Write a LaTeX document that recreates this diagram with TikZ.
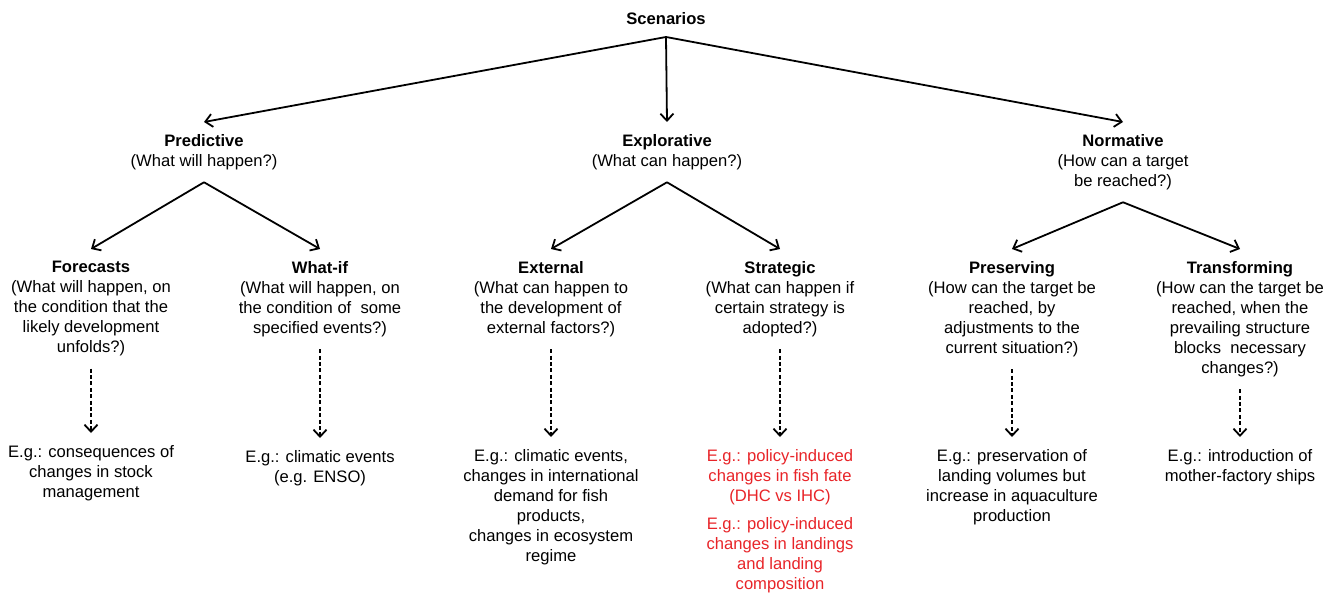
\documentclass[tikz,border=0pt]{standalone}
\usepackage{fontspec}
\setmainfont{Liberation Sans}
\usetikzlibrary{arrows.meta}
\definecolor{egred}{RGB}{232,36,40}

\begin{document}
\begin{tikzpicture}[x=0.5pt, y=-0.5pt,
	nodes={align=center, anchor=north, inner xsep=2pt, inner ysep=6pt,
		font=\fontsize{8.3}{10}\selectfont},
	treearrow/.style={-{Straight Barb[length=3.5pt, width=6.5pt]}, line width=0.9pt},
	egarrow/.style={treearrow, dash pattern=on 2pt off 1.2pt}]
	\useasboundingbox (0,0) rectangle (1334,599);
	
	% top levels
	\node (scen) at (666,0) {\textbf{Scenarios}};
	\node (pred) at (204,122) {\textbf{Predictive}\\(What will happen?)};
	\node (expl) at (667,122) {\textbf{Explorative}\\(What can happen?)};
	\node (norm) at (1123,122) {\textbf{Normative}\\(How can a target\\be reached?)};
	
	% scenario types
	\node (fore) at (91,249) {\textbf{Forecasts}\\(What will happen, on\\the condition that the\\likely development\\unfolds?)};
	\node (whatif) at (320,249) {\textbf{What-if}\\(What will happen, on\\the condition of~ some\\specified events?)};
	\node (ext) at (551,249) {\textbf{External}\\(What can happen to\\the development of\\external factors?)};
	\node (strat) at (780,249) {\textbf{Strategic}\\(What can happen if\\certain strategy is\\adopted?)};
	\node (pres) at (1012,249) {\textbf{Preserving}\\(How can the target be\\reached, by\\adjustments to the\\current situation?)};
	\node (trans) at (1240,249) {\textbf{Transforming}\\(How can the target be\\reached, when the\\prevailing structure\\blocks~ necessary\\changes?)};
	
	% examples
	\node (foreeg) at (91,433) {E.g.: consequences of\\changes in stock\\management};
	\node (whatifeg) at (320,438) {E.g.: climatic events\\(e.g. ENSO)};
	\node (exteg) at (551,437) {E.g.: climatic events,\\changes in international\\demand for fish\\products,\\changes in ecosystem\\regime};
	\node[text=egred] (strateg) at (780,437) {E.g.: policy-induced\\changes in fish fate\\(DHC vs IHC)\\[4pt]E.g.: policy-induced\\changes in landings\\and landing\\composition};
	\node (preseg) at (1012,437) {E.g.: preservation of\\landing volumes but\\increase in aquaculture\\production};
	\node (transeg) at (1240,437) {E.g.: introduction of\\mother-factory ships};
	
	\foreach \a/\b in {scen/pred, scen/expl, scen/norm, pred/fore, pred/whatif,
		expl/ext, expl/strat, norm/pres, norm/trans}
		\draw[treearrow] (\a.south) -- (\b.north);
	\foreach \a in {fore, whatif, ext, strat, pres, trans}
		\draw[egarrow] (\a.south) -- (\a eg.north);
	
\end{tikzpicture}
\end{document}
